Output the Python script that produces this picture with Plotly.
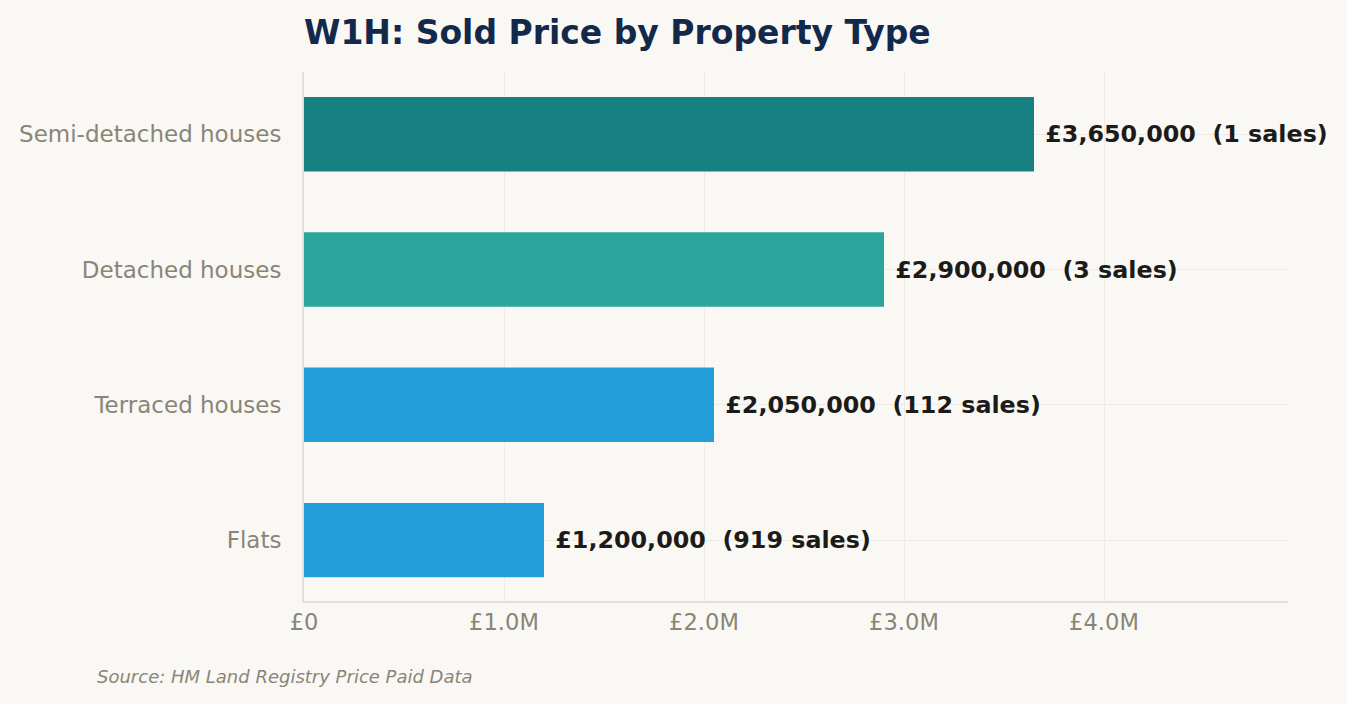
import plotly.graph_objects as go

# data
tipos = ["Flats", "Terraced houses", "Detached houses", "Semi-detached houses"]
precos = [1200000, 2050000, 2900000, 3650000]
vendas = [919, 112, 3, 1]
cores = ["#239ed8", "#239ed8", "#2ca59d", "#178080"]
tick_vals = [0, 1000000, 2000000, 3000000, 4000000]
tick_text = ["£0", "£1.0M", "£2.0M", "£3.0M", "£4.0M"]

rotulos = ["\u00a0£{:,}\u00a0 ({} sales)".format(p, v) for p, v in zip(precos, vendas)]

fig = go.Figure(go.Bar(
    x=precos, y=tipos, orientation="h",
    marker=dict(color=cores, line=dict(width=0)),
    width=0.55,
    text=rotulos, textposition="outside", cliponaxis=False,
    textfont=dict(family="DejaVu Sans", size=23.8, color="#1c1b19", weight="bold"),
    hoverinfo="skip"
))

fig.update_xaxes(range=[0, 4920000], tickvals=tick_vals, ticktext=tick_text,
                 showgrid=True, gridcolor="#efece5", gridwidth=1,
                 showline=True, linecolor="#e4dfd3", linewidth=2,
                 zeroline=False, ticks="",
                 tickfont=dict(family="DejaVu Sans", size=22.6, color="#8a8576"))
fig.update_yaxes(categoryorder="array", categoryarray=tipos, range=[-0.45, 3.46],
                 showgrid=True, gridcolor="#efece5", gridwidth=1,
                 showline=True, linecolor="#e4dfd3", linewidth=2,
                 ticks="", ticklabelstandoff=16,
                 tickfont=dict(family="DejaVu Sans", size=23, color="#8a8576"))

fig.update_layout(
    width=1347, height=704,
    paper_bgcolor="#f9f8f4", plot_bgcolor="#f9f8f4",
    margin=dict(l=304, r=59, t=72, b=103),
    showlegend=False,
    font=dict(family="DejaVu Sans"),
    title=dict(text="<b>W1H: Sold Price by Property Type</b>",
               x=0, xref="paper", xanchor="left",
               y=1 - 32 / 704, yref="container", yanchor="middle",
               font=dict(family="DejaVu Sans", size=33, color="#13294b")),
)
fig.add_annotation(text="<i>Source: HM Land Registry Price Paid Data</i>",
                   xref="paper", yref="paper", x=-0.2124, y=-0.1418,
                   xanchor="left", yanchor="middle", showarrow=False,
                   font=dict(family="DejaVu Sans", size=18, color="#8a8576"))

fig.write_html("out.html", config={"displayModeBar": False},
               post_script="document.body.style.margin='0';")
